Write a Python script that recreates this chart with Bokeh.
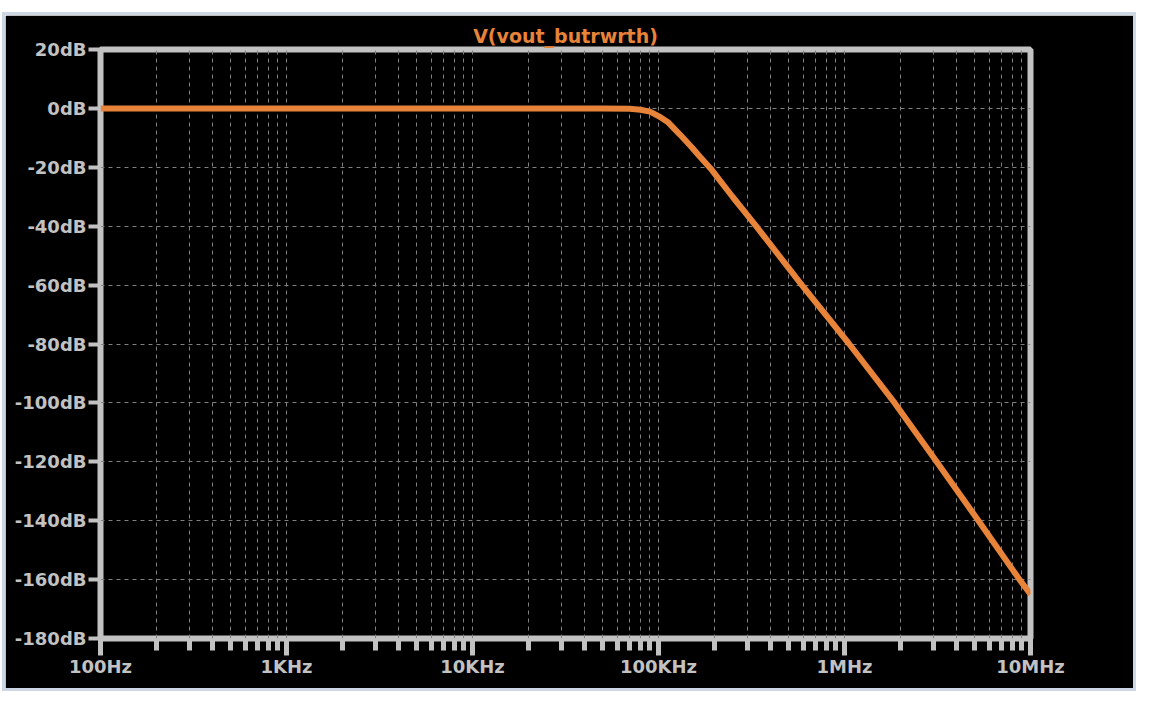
from bokeh.plotting import figure
from bokeh.models import FixedTicker, Label
from bokeh.embed import file_html
from bokeh.resources import INLINE

# ---- data ----
freq_hz = [100, 1000, 10000, 50000, 70000, 80000, 90000, 100000, 112000, 130000,
           150000, 168000, 190000, 250000, 335000, 590000, 1060000, 1860000,
           3130000, 5250000, 8730000, 10000000]
gain_db = [0, 0, 0, 0, -0.15, -0.45, -1.1, -2.6, -4.6, -8.8,
           -13.0, -16.6, -20.3, -30, -40, -60, -80, -100,
           -120, -140, -160, -165]

x_ticks = [100, 1000, 10000, 100000, 1000000, 10000000]
x_tick_labels = ["100Hz", "1KHz", "10KHz", "100KHz", "1MHz", "10MHz"]
y_ticks = [20, 0, -20, -40, -60, -80, -100, -120, -140, -160, -180]
y_tick_labels = ["20dB", "0dB", "-20dB", "-40dB", "-60dB", "-80dB", "-100dB",
                 "-120dB", "-140dB", "-160dB", "-180dB"]
title_text = "V(vout_butrwrth)"
watermark = "CSDN @tt姐whaosoft"

GREY = "#c2c2c2"
ORANGE = "#e8833a"
GRID = "#808080"

p = figure(width=1128, height=673, x_axis_type="log",
           x_range=(100, 1e7), y_range=(-180, 20),
           output_backend="svg", toolbar_location=None,
           margin=(15, 17, 16, 5),
           min_border_left=95, min_border_right=103,
           min_border_top=34, min_border_bottom=50,
           border_fill_color="black", background_fill_color="black",
           outline_line_color=GREY, outline_line_width=6,
           styles={"outline": "3px solid #cdd7e3"})

# title
p.title.text = title_text
p.title.align = "center"
p.title.text_color = ORANGE
p.title.text_font = "DejaVu Sans"
p.title.text_font_style = "bold"
p.title.text_font_size = "19px"
p.title.standoff = 6

# x axis
minor = [k * 10 ** d for d in range(2, 7) for k in range(2, 10)]
p.xaxis.ticker = FixedTicker(ticks=x_ticks, minor_ticks=minor)
p.xaxis.major_label_overrides = {float(t): l for t, l in zip(x_ticks, x_tick_labels)}
# y axis
p.yaxis.ticker = FixedTicker(ticks=y_ticks)
p.yaxis.major_label_overrides = {t: l for t, l in zip(y_ticks, y_tick_labels)}

for ax in (p.xaxis, p.yaxis):
    ax.axis_line_color = None
    ax.major_tick_line_color = GREY
    ax.minor_tick_line_color = GREY
    ax.major_tick_in = 0
    ax.minor_tick_in = 0
    ax.major_label_text_color = GREY
    ax.major_label_text_font = "DejaVu Sans"
    ax.major_label_text_font_style = "bold"
    ax.major_label_text_font_size = "18px"

p.xaxis.major_tick_out = 17
p.xaxis.major_tick_line_width = 5
p.xaxis.minor_tick_out = 12
p.xaxis.minor_tick_line_width = 5
p.xaxis.major_label_standoff = 0

p.yaxis.major_tick_out = 12
p.yaxis.major_tick_line_width = 4
p.yaxis.minor_tick_line_color = None
p.yaxis.major_label_standoff = 2

# grid
p.xgrid.grid_line_color = GRID
p.xgrid.grid_line_dash = "4 4"
p.xgrid.minor_grid_line_color = GRID
p.xgrid.minor_grid_line_dash = "4 4"
p.ygrid.grid_line_color = GRID
p.ygrid.grid_line_dash = "4 4"

# curve
p.line(freq_hz, gain_db, line_color=ORANGE, line_width=6)

# watermark
p.add_layout(Label(x=952, y=665, x_units="canvas", y_units="canvas",
                   text=watermark, text_font="Noto Sans CJK SC",
                   text_font_size="16px", text_color="#f4f4f4",
                   text_outline_color="#6e6e6e", text_baseline="middle"))

open("out.html", "w").write(file_html(p, INLINE))
